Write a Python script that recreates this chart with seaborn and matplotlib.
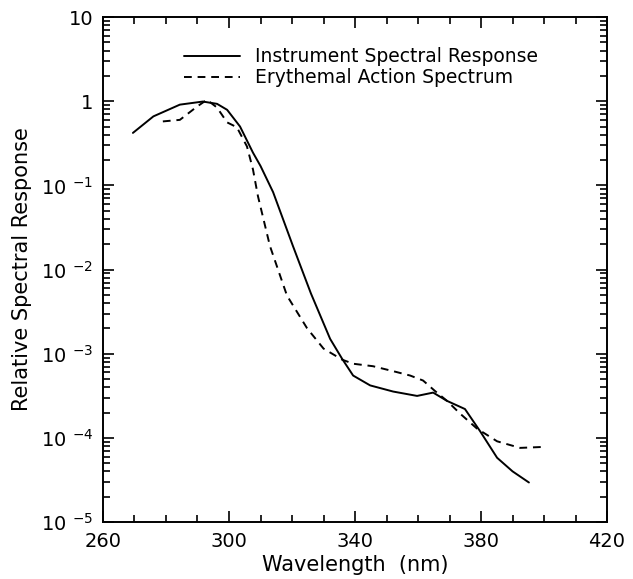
import numpy as np
import pandas as pd
import matplotlib
matplotlib.use("Agg")
import matplotlib.pyplot as plt
import seaborn as sns
from matplotlib.ticker import FixedLocator, FixedFormatter, LogLocator, MultipleLocator, NullFormatter

# Instrument spectral response (solid)
inst_wl = [269.5, 276, 284.4, 291.7, 296.2, 299.4, 303.5, 307.6, 310, 314, 320.3,
           326, 332.1, 335.9, 339.4, 344.8, 352.1, 359.7, 364.8, 369.2, 374.9,
           379.7, 385.1, 390, 395.2]
inst_resp = [0.42, 0.66, 0.91, 0.99, 0.93, 0.79, 0.50, 0.245, 0.17, 0.083, 0.019,
             0.0052, 0.0015, 8.7e-4, 5.5e-4, 4.2e-4, 3.55e-4, 3.15e-4, 3.45e-4, 2.75e-4, 2.2e-4,
             1.2e-4, 5.8e-5, 4.0e-5, 2.95e-5]

# Erythemal action spectrum (dashed)
ery_wl = [279.0, 284.4, 289.8, 293.0, 296.2, 299.4, 302.5, 305.7, 307.6, 309.2,
          313.0, 318.4, 324.8, 330.0, 335.9, 339.4, 345.7, 352.1, 357.5, 361.6,
          365.4, 369.2, 373.3, 378.7, 385.1, 392.4, 399.7]
ery_resp = [0.575, 0.60, 0.86, 1.04, 0.84, 0.56, 0.49, 0.29, 0.155, 0.074,
            0.019, 0.0049, 0.0020, 0.00115, 8.5e-4, 7.6e-4, 7.1e-4, 6.2e-4, 5.5e-4, 4.8e-4,
            3.6e-4, 2.75e-4, 1.95e-4, 1.29e-4, 9.1e-5, 7.6e-5, 7.8e-5]

labels = ["Instrument Spectral Response", "Erythemal Action Spectrum"]

x_ticks = [260, 300, 340, 380, 420]
y_ticks = [1e-5, 1e-4, 1e-3, 1e-2, 1e-1, 1, 10]
y_ticklabels = ["10 $^{-5}$", "10 $^{-4}$", "10 $^{-3}$", "10 $^{-2}$", "10 $^{-1}$", "1", "10"]

df = pd.concat([
    pd.DataFrame({"wl": inst_wl, "resp": inst_resp, "series": labels[0]}),
    pd.DataFrame({"wl": ery_wl, "resp": ery_resp, "series": labels[1]}),
])

sns.set_style("ticks")
plt.rcParams['font.family'] = ['DejaVu Sans']
plt.rcParams['mathtext.default'] = 'regular'
plt.rcParams['text.color'] = 'black'
plt.rcParams['axes.labelcolor'] = 'black'

fig = plt.figure(figsize=(6.33, 5.79), dpi=100)
ax = fig.add_axes([0.1627, 0.0984, 0.7963, 0.8722])

sns.lineplot(data=df, x="wl", y="resp", hue="series", style="series",
             palette=["black", "black"], dashes=[(None, None), (4, 3)],
             linewidth=1.4, ax=ax, sort=False, estimator=None, legend=True)

ax.set_yscale("log")
ax.set_xlim(260, 420)
ax.set_ylim(1e-5, 10)

ax.xaxis.set_major_locator(FixedLocator(x_ticks))
ax.xaxis.set_minor_locator(MultipleLocator(10))
ax.yaxis.set_major_locator(FixedLocator(y_ticks))
ax.yaxis.set_major_formatter(FixedFormatter(y_ticklabels))
ax.yaxis.set_minor_locator(LogLocator(base=10, subs=np.arange(2, 10)))
ax.yaxis.set_minor_formatter(NullFormatter())

ax.tick_params(which="both", direction="in", top=True, right=True, labelsize=14,
               width=1.2, colors="black")
ax.tick_params(which="major", length=8, pad=7)
ax.tick_params(which="minor", length=5)
for s in ax.spines.values():
    s.set_linewidth(1.4)
    s.set_color("black")

ax.set_xlabel("Wavelength  (nm)", fontsize=15, labelpad=3, color="black")
ax.set_ylabel("Relative Spectral Response", fontsize=15, labelpad=6, color="black")

leg = ax.legend(loc="upper left", bbox_to_anchor=(0.145, 0.955), frameon=False,
                fontsize=13.5, handlelength=3.0, handletextpad=0.8, labelspacing=0.1,
                borderaxespad=0)
for t in leg.get_texts():
    t.set_color("black")
leg.set_title(None)

fig.savefig("out.png", dpi=100)
